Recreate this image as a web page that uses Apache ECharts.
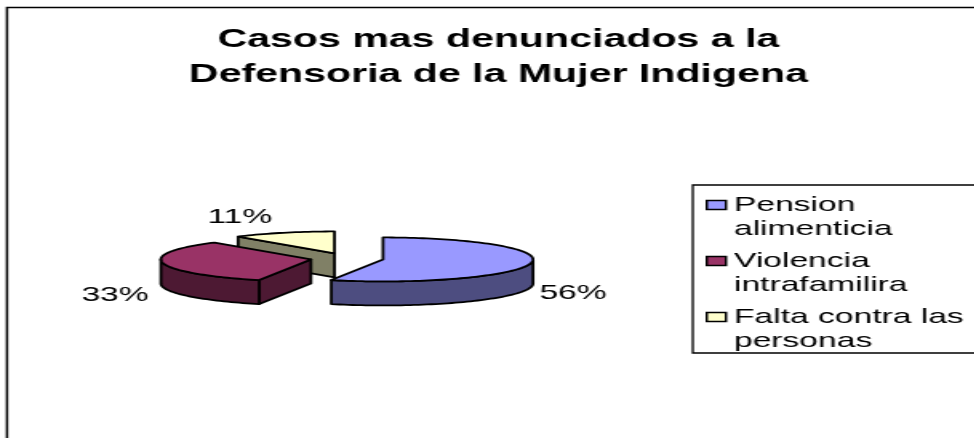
<!DOCTYPE html>
<html>
<head>
<meta charset="utf-8">
<style>
  html, body { margin: 0; padding: 0; background: #fff; overflow: hidden; }
  /* the reference is stretched sideways, so the whole chart is too */
  #main { width: 609px; height: 438px; transform: scale(1.6, 1); transform-origin: 0 0; }
</style>
<script src="https://cdn.jsdelivr.net/npm/echarts@6/dist/echarts.min.js"></script>
</head>
<body>
<div id="main"></div>
<script>
  var titleText = 'Casos mas denunciados a la\nDefensoria de la Mujer Indigena';
  var names = ['Pension\nalimenticia', 'Violencia\nintrafamilira', 'Falta contra las\npersonas'];
  var values = [55.6, 33.3, 11.1];
  var topColors = ['#9999ff', '#993366', '#ffffcc'];
  var sideColors = ['#4d4d80', '#4d1933', '#808066'];

  var FONT = '"Liberation Sans", Arial, sans-serif';
  var SX = 1.6;
  var rx = 150 / SX, ry = 22, depth = 24;   // pie ellipse
  var cx = 347 / SX, cy = 258.5;
  var explode = 0.244;
  var labelPos = [[539.5 / SX, 293], [81.5 / SX, 295], [207.5 / SX, 217]];

  var total = values.reduce(function (a, b) { return a + b; }, 0);

  // angle in radians, clockwise from 12 o'clock
  function pt(c, a, dy) {
    return [c[0] + Math.sin(a) * rx, c[1] - Math.cos(a) * ry + (dy || 0)];
  }

  function arcPoints(c, a0, a1, dy) {
    var pts = [], n = Math.max(2, Math.ceil((a1 - a0) / 0.03));
    for (var i = 0; i <= n; i++) {
      pts.push(pt(c, a0 + (a1 - a0) * i / n, dy));
    }
    return pts;
  }

  function poly(points, fill) {
    return {
      type: 'polygon',
      shape: { points: points },
      style: { fill: fill, stroke: '#000', lineWidth: 1.8, lineJoin: 'round' }
    };
  }

  function renderSlice(idx) {
    var before = values.slice(0, idx).reduce(function (a, b) { return a + b; }, 0);
    var a0 = before / total * Math.PI * 2;
    var a1 = (before + values[idx]) / total * Math.PI * 2;
    var mid = (a0 + a1) / 2;
    var c = [cx + Math.sin(mid) * rx * explode, cy - Math.cos(mid) * ry * explode];
    var children = [];

    // cut faces that look towards the viewer
    [[a0, Math.sin(a0) < -1e-6], [a1, Math.sin(a1) > 1e-6]].forEach(function (f) {
      if (f[1]) {
        var e = pt(c, f[0]);
        children.push(poly([c, e, [e[0], e[1] + depth], [c[0], c[1] + depth]], sideColors[idx]));
      }
    });

    // outer wall, front half only
    var w0 = Math.max(a0, Math.PI / 2), w1 = Math.min(a1, Math.PI * 1.5);
    if (w1 > w0) {
      children.push(poly(arcPoints(c, w0, w1).concat(arcPoints(c, w0, w1, depth).reverse()), sideColors[idx]));
    }

    children.push(poly([c].concat(arcPoints(c, a0, a1)), topColors[idx]));
    children.push({
      type: 'text',
      style: {
        x: labelPos[idx][0],
        y: labelPos[idx][1],
        text: Math.round(values[idx]) + '%',
        fill: '#000',
        font: '21px ' + FONT,
        verticalAlign: 'middle'
      }
    });
    return { type: 'group', children: children };
  }

  var myChart = echarts.init(document.getElementById('main'));
  myChart.setOption({
    animation: false,
    backgroundColor: '#fff',
    title: {
      text: titleText,
      left: 306.5,
      top: 17,
      textAlign: 'center',
      textStyle: { fontFamily: FONT, fontSize: 25.7, fontWeight: 'bold', color: '#000', lineHeight: 35 }
    },
    legend: {
      orient: 'vertical',
      left: 441,
      top: 169,
      padding: 0,
      itemGap: -16,
      itemWidth: 12,
      itemHeight: 9,
      icon: 'rect',
      align: 'left',
      selectedMode: false,
      itemStyle: { borderColor: '#000', borderWidth: 1.5 },
      // blank first line keeps the swatch level with the first text line
      formatter: function (name) { return '\n' + name; },
      textStyle: { fontFamily: FONT, fontSize: 21, color: '#000', lineHeight: 24 },
      data: names
    },
    graphic: [
      {
        type: 'rect',
        shape: { x: 4.4, y: 7.5, width: 700, height: 500 },
        style: { fill: 'none', stroke: '#000', lineWidth: 1.5 },
        z: 0
      },
      {
        type: 'rect',
        shape: { x: 433, y: 185, width: 300, height: 168 },
        style: { fill: '#fff', stroke: '#000', lineWidth: 1.3 },
        z: 0
      }
    ],
    series: names.map(function (name, i) {
      return {
        type: 'custom',
        name: name,
        coordinateSystem: 'none',
        // yellow first, blue last: the nearer slices cover the far ones
        z: 3 - i,
        itemStyle: { color: topColors[i] },
        data: [[values[i]]],
        renderItem: function () { return renderSlice(i); }
      };
    })
  });
</script>
</body>
</html>
